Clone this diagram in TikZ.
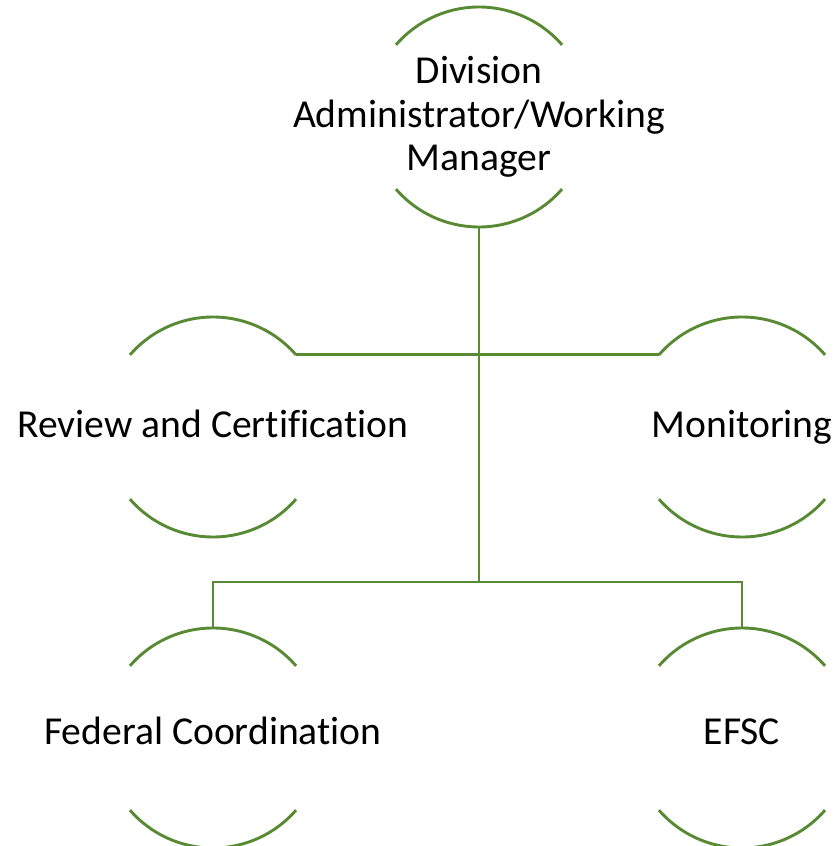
\documentclass[tikz,border=0pt]{standalone}
\usepackage{fontspec}
\setmainfont{Carlito}[Ligatures={NoCommon,NoRare}]
\newcommand\lbrk{\kern0pt\relax}
\definecolor{orggreen}{RGB}{88,138,52}
\begin{document}
\begin{tikzpicture}[x=1pt,y=1pt,
  arcline/.style={draw=orggreen,line width=2.9pt},
  conn/.style={draw=orggreen,line width=2.9pt},
  lbl/.style={font=\fontsize{39.6}{43.5}\selectfont,inner sep=0pt,outer sep=0pt,text=black,align=center}]
\useasboundingbox (0,0) rectangle (838,846);
% circle centres
\coordinate (cTop) at (479,729);
\coordinate (cRev) at (213,419);
\coordinate (cMon) at (742,419);
\coordinate (cFed) at (213,108);
\coordinate (cEfs) at (742,108);
% arcs
\foreach \c in {cTop,cRev,cMon,cFed,cEfs}{
  \draw[arcline] ([shift={(41:110)}]\c) arc[start angle=41,end angle=139,radius=110];
  \draw[arcline] ([shift={(221:110)}]\c) arc[start angle=221,end angle=319,radius=110];
}
% labels
\node[lbl,anchor=center] (top) at (cTop) {Division\\Administrator/Working\\Manager};
\node[lbl,anchor=base] (rev) at (213,408) {Review and Certif\lbrk icat\lbrk ion};
\node[lbl,anchor=base] (mon) at (742,408) {Monitoring};
\node[lbl,anchor=base] (fed) at (213,101) {Federal Coordinat\lbrk ion};
\node[lbl,anchor=base] (efs) at (742,101) {EFSC};
% connector points
\coordinate (topS) at ([yshift=-110pt]cTop);
\coordinate (revNE) at ([shift={(41:110)}]cRev);
\coordinate (monNW) at ([shift={(139:110)}]cMon);
\coordinate (fedN) at ([yshift=110pt]cFed);
\coordinate (efsN) at ([yshift=110pt]cEfs);
\coordinate (jB) at (479,264);
% connectors
\draw[conn] (topS) -- (jB);
\draw[conn] (revNE) -- (monNW);
\draw[conn] (fedN) -- (fedN |- jB) -- (efsN |- jB) -- (efsN);
\end{tikzpicture}
\end{document}
